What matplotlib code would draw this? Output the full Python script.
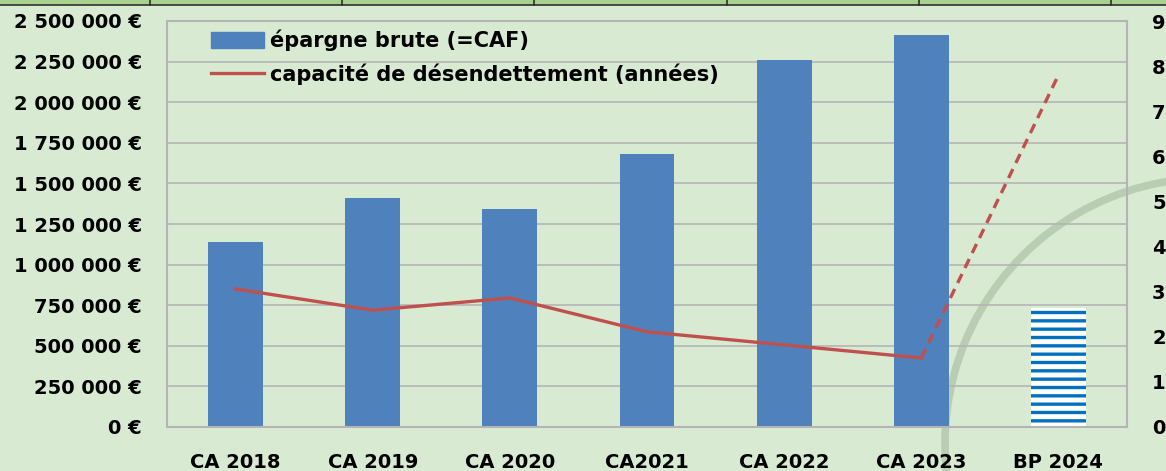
import numpy as np
import matplotlib
matplotlib.use('Agg')
import matplotlib.pyplot as plt
from matplotlib.patches import Rectangle, Arc
from matplotlib.lines import Line2D
from matplotlib.ticker import FuncFormatter

# data
categories = ['CA 2018', 'CA 2019', 'CA 2020', 'CA2021', 'CA 2022', 'CA 2023', 'BP 2024']
epargne = [1139000, 1410000, 1342000, 1681000, 2260000, 2414000, 733000]
capacite = [3.06, 2.59, 2.86, 2.11, 1.82, 1.53, 7.8]

bg = '#D9EAD3'
blue = '#4F81BD'
red = '#C0504D'
grid_c = '#B4B4B4'

plt.rcParams['font.family'] = 'DejaVu Sans'
plt.rcParams['font.weight'] = 'bold'
plt.rcParams['hatch.linewidth'] = 2.4

fig = plt.figure(figsize=(11.66, 4.71), dpi=100, facecolor=bg)

# spreadsheet header strip + background arc (decoration)
fig.patches.append(Rectangle((0, 466/471), 1, 5/471, transform=fig.transFigure,
                             facecolor='#A9D18E', edgecolor='none', zorder=-2))
fig.lines.append(Line2D([0, 1], [466/471, 466/471], transform=fig.transFigure,
                        color='#303030', lw=1.2, zorder=-1))
for xp in [150, 342, 534, 727, 919, 1111]:
    fig.lines.append(Line2D([xp/1166, xp/1166], [466/471, 1], transform=fig.transFigure,
                            color='#303030', lw=1.2, zorder=-1))
fig.patches.append(Arc((1210/1166, 28/471), 530/1166, 530/471, theta1=80, theta2=200,
                       transform=fig.transFigure, color='#B9CDB3', lw=5.5, zorder=-1))

ax = fig.add_axes([167/1166, 44/471, 960/1166, 406/471])
ax.patch.set_alpha(0)
x = np.arange(len(categories))

ax.bar(x[:-1], epargne[:-1], width=0.4, color=blue, zorder=2)
ax.bar(x[-1:], epargne[-1:], width=0.4, facecolor='white', edgecolor='#0070C0',
       hatch='--', linewidth=0, zorder=2)

ax.set_xlim(-0.5, len(categories) - 0.5)
ax.set_ylim(0, 2500000)
ax.set_yticks(np.arange(0, 2500001, 250000))
ax.yaxis.set_major_formatter(FuncFormatter(lambda v, p: '{:,.0f} €'.format(v).replace(',', ' ')))
ax.set_xticks(x)
ax.set_xticklabels(categories)
ax.grid(axis='y', color=grid_c, lw=1.2)
ax.set_axisbelow(True)
ax.tick_params(axis='both', length=0, labelsize=14, colors='black')
ax.tick_params(axis='y', pad=18)
ax.tick_params(axis='x', pad=19)
for s in ax.spines.values():
    s.set_color(grid_c)
    s.set_linewidth(1.5)

ax2 = ax.twinx()
ax2.plot(x[:-1], capacite[:-1], color=red, lw=2.4, zorder=3)
ax2.plot(x[-2:], capacite[-2:], color=red, lw=2.4, ls=(0, (3, 2)), zorder=3)
ax2.set_ylim(0, 9)
ax2.set_yticks(range(10))
ax2.tick_params(axis='y', length=0, labelsize=14, pad=18)
for s in ax2.spines.values():
    s.set_visible(False)

handles = [Rectangle((0, 0), 1, 1, color=blue),
           Line2D([0], [0], color=red, lw=2.4)]
labels = ['épargne brute (=CAF)', 'capacité de désendettement (années)']
ax2.legend(handles, labels, loc='upper left', bbox_to_anchor=(0.033, 1.01), frameon=False,
           fontsize=15, handlelength=2.55, handleheight=0.8, handletextpad=0.25,
           labelspacing=0.6, borderaxespad=0.2)

fig.savefig('out.png', dpi=100, facecolor=bg)
